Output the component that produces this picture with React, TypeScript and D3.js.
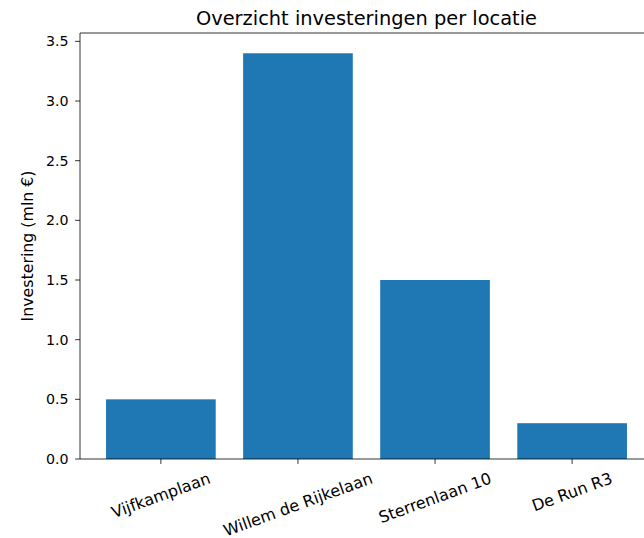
import React, { useEffect, useRef } from "react";
import * as d3 from "d3";

const categories = ["Vijfkamplaan", "Willem de Rijkelaan", "Sterrenlaan 10", "De Run R3"];
const values = [0.5, 3.4, 1.5, 0.3];
const yTicks = [0, 0.5, 1.0, 1.5, 2.0, 2.5, 3.0, 3.5];
const title = "Overzicht investeringen per locatie";
const yLabel = "Investering (mln €)";

const W = 644, H = 538;
const left = 80, right = 653, top = 33, bottom = 459;
const FONT = "DejaVu Sans, sans-serif";

export default function App() {
  const ref = useRef<SVGSVGElement>(null);
  useEffect(() => {
    const svg = d3.select(ref.current);
    svg.selectAll("*").remove();
    const n = categories.length;
    const x = d3.scaleLinear().domain([-0.4 - 0.05 * (n - 1 + 0.8), n - 1 + 0.4 + 0.05 * (n - 1 + 0.8)]).range([left, right]);
    const maxV = d3.max(values) as number;
    const y = d3.scaleLinear().domain([0, maxV * 1.05]).range([bottom, top]);

    svg.append("rect").attr("width", W).attr("height", H).attr("fill", "white");

    svg.selectAll("rect.bar").data(values).enter().append("rect")
      .attr("class", "bar")
      .attr("x", (_, i) => x(i - 0.4))
      .attr("width", (_, i) => x(i + 0.4) - x(i - 0.4))
      .attr("y", d => y(d))
      .attr("height", d => bottom - y(d))
      .attr("fill", "#1f77b4");

    const sp = svg.append("g").attr("stroke", "black").attr("stroke-width", 0.8).attr("fill", "none");
    sp.append("line").attr("x1", left).attr("x2", left).attr("y1", top).attr("y2", bottom);
    sp.append("line").attr("x1", left).attr("x2", right).attr("y1", bottom).attr("y2", bottom);
    sp.append("line").attr("x1", left).attr("x2", right).attr("y1", top).attr("y2", top);
    sp.append("line").attr("x1", right).attr("x2", right).attr("y1", top).attr("y2", bottom);

    yTicks.forEach(t => {
      const yy = y(t);
      svg.append("line").attr("x1", left - 4.9).attr("x2", left).attr("y1", yy).attr("y2", yy)
        .attr("stroke", "black").attr("stroke-width", 0.8);
      svg.append("text").attr("x", left - 4.9 - 6.5).attr("y", yy).attr("text-anchor", "end")
        .attr("dominant-baseline", "central").attr("font-family", FONT).attr("font-size", 14.2)
        .attr("fill", "#000").text(t.toFixed(1));
    });

    const xFs = 16;
    categories.forEach((c, i) => {
      const xx = x(i);
      svg.append("line").attr("x1", xx).attr("x2", xx).attr("y1", bottom).attr("y2", bottom + 4.9)
        .attr("stroke", "black").attr("stroke-width", 0.8);
      const t = svg.append("text").attr("text-anchor", "middle").attr("dominant-baseline", "central")
        .attr("font-family", FONT).attr("font-size", xFs).attr("fill", "black").text(c);
      const w = (t.node() as SVGTextElement).getComputedTextLength();
      const h = xFs * 1.17;
      const a = (20 * Math.PI) / 180;
      const bh = w * Math.sin(a) + h * Math.cos(a);
      const topY = bottom + 4.9 + 4.9;
      t.attr("transform", `translate(${xx},${topY + bh / 2}) rotate(-20)`);
    });

    svg.append("text").attr("x", (left + right) / 2).attr("y", top - 8.3).attr("text-anchor", "middle")
      .attr("font-family", FONT).attr("font-size", 19.4).attr("fill", "black").text(title);

    svg.append("text").attr("transform", `translate(27,${(top + bottom) / 2}) rotate(-90)`)
      .attr("text-anchor", "middle").attr("dominant-baseline", "central")
      .attr("font-family", FONT).attr("font-size", 15.8).attr("fill", "black").text(yLabel);
  }, []);
  return (
    <svg ref={ref} width={W} height={H} style={{ position: "absolute", left: 0, top: 0, display: "block" }} />
  );
}
